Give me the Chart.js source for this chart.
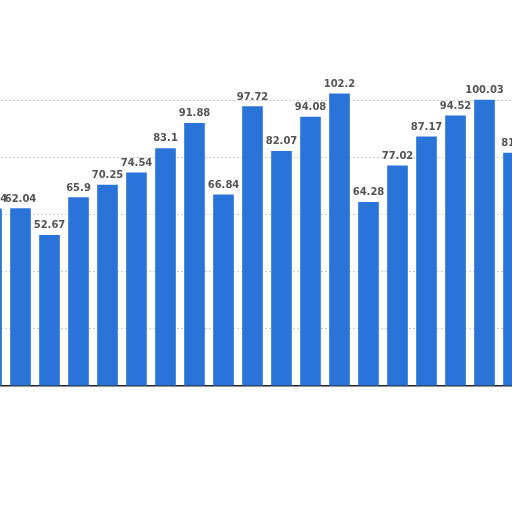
<!DOCTYPE html>
<html>
<head>
<meta charset="utf-8">
<script src="https://cdn.jsdelivr.net/npm/chart.js@4/dist/chart.umd.min.js"></script>
<style>
  html, body { margin: 0; padding: 0; background: #fff; overflow: hidden; }
  /* the picture is a crop: first and last bars are cut at the edges */
  #box { width: 551px; height: 512px; margin-left: -23.5px; }
</style>
</head>
<body>
<div id="box"><canvas id="bars"></canvas></div>
<script>
// values, left to right (first and last bars are cut off)
var categories = ['1', '2', '3', '4', '5', '6', '7', '8', '9', '10',
                  '11', '12', '13', '14', '15', '16', '17', '18', '19'];
var values = [61.94, 62.04, 52.67, 65.9, 70.25, 74.54, 83.1, 91.88, 66.84, 97.72,
              82.07, 94.08, 102.2, 64.28, 77.02, 87.17, 94.52, 100.03, 81.5];
var yTicks = [0, 20, 40, 60, 80, 100];

// value labels over the bars
var barLabels = {
  id: 'barLabels',
  afterDatasetsDraw: function (chart) {
    var c = chart.ctx;
    var meta = chart.getDatasetMeta(0);
    c.save();
    c.font = 'bold 10px "DejaVu Sans"';
    c.fillStyle = '#555';
    c.textAlign = 'center';
    c.textBaseline = 'alphabetic';
    meta.data.forEach(function (bar, i) {
      c.fillText(String(values[i]), bar.x, bar.y - 7);
    });
    c.restore();
  }
};

var chart = new Chart(document.getElementById('bars'), {
  type: 'bar',
  data: {
    labels: categories,
    datasets: [{
      data: values,
      backgroundColor: '#2a74d9',
      borderWidth: 0,
      barThickness: 20
    }]
  },
  options: {
    responsive: true,
    maintainAspectRatio: false,
    animation: false,
    layout: { padding: { top: 43, bottom: 126, left: 0, right: 0 } },
    plugins: { legend: { display: false }, tooltip: { enabled: false } },
    scales: {
      x: { display: false },
      y: {
        min: 0,
        max: 120,
        afterBuildTicks: function (axis) {
          axis.ticks = yTicks.map(function (v) { return { value: v }; });
        },
        ticks: { display: false },
        border: {
          display: false,
          dash: function (ctx) { return ctx.tick && ctx.tick.value === 0 ? [] : [2, 2]; }
        },
        grid: {
          drawTicks: false,
          color: function (ctx) { return ctx.tick && ctx.tick.value === 0 ? '#222' : '#cfcfcf'; },
          lineWidth: function (ctx) { return ctx.tick && ctx.tick.value === 0 ? 1.5 : 1; }
        }
      }
    }
  },
  plugins: [barLabels]
});
</script>
</body>
</html>
